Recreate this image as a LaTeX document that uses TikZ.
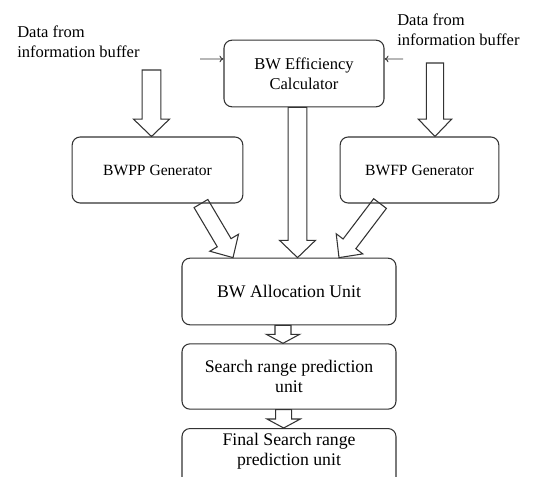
\documentclass[tikz,border=0pt]{standalone}
\usepackage{fontspec}
\setmainfont{Liberation Serif}
\usetikzlibrary{calc,arrows.meta}

\tikzset{
  box/.style={draw=black!80, line width=0.8pt, rounded corners=6pt, align=center,
    font=\fontsize{13.3}{15}\selectfont},
  small/.style={font=\fontsize{12.4}{15}\selectfont},
  gen/.style={font=\fontsize{11.7}{15}\selectfont},
  fat/.style={draw=black!80, line width=0.8pt, line join=miter},
  thin/.style={draw=black!80, line width=0.7pt, -{To[length=3pt,width=5pt]}},
  lbl/.style={align=left, inner sep=0pt, font=\fontsize{12.4}{15}\selectfont},
}

% hollow block arrow: from, to, shaft half width, head half width, head length
\newcommand{\blockarrow}[5]{%
  \coordinate (bh) at ($(#2)!#5!(#1)$);
  \draw[fat] ($(#1)!#3!90:(#2)$) -- ($(bh)!#3!90:(#2)$) -- ($(bh)!#4!90:(#2)$) -- (#2)
    -- ($(bh)!#4!-90:(#2)$) -- ($(bh)!#3!-90:(#2)$) -- ($(#1)!#3!-90:(#2)$) -- cycle;}

\begin{document}
\begin{tikzpicture}[x=0.75pt,y=0.75pt]
  \useasboundingbox (0,0) rectangle (534,476);
  \clip (0,0) rectangle (534,476);

  % boxes
  \node[box, small, minimum width=120pt, minimum height=50pt] (calc) at (304,402.5) {BW Efficiency\\Calculator};
  \node[box, gen, minimum width=128pt, minimum height=49.5pt] (bwpp) at (157.5,306) {BWPP Generator};
  \node[box, gen, minimum width=119pt, minimum height=49.5pt] (bwfp) at (419.5,306) {BWFP Generator};
  \node[box, minimum width=160.5pt, minimum height=50pt] (alloc) at (289,184.5) {BW Allocation Unit};
  \node[box, minimum width=160.5pt, minimum height=49pt] (search) at (289,99.5) {Search range prediction\\unit};
  \node[box, minimum width=160.5pt, anchor=north] (final) at (289,48) {Final Search range\\prediction unit\rule[-20pt]{0pt}{0pt}};

  % inputs
  \node[lbl, anchor=west] (lbuf) at (17,434) {Data from\\information buffer};
  \node[lbl, anchor=west] (rbuf) at (397,446) {Data from\\information buffer};
  \coordinate (lin) at (151.5,406);
  \coordinate (rin) at (435,413);
  \coordinate (lsrc) at (200,417);
  \coordinate (rsrc) at (403,417);
  \draw[thin] (lsrc) -- ([yshift=10.9pt]calc.west);
  \draw[thin] (rsrc) -- ([yshift=10.9pt]calc.east);

  % block arrows
  \coordinate (a1) at ([xshift=-4.5pt]bwpp.north);
  \coordinate (a2) at ([xshift=11.6pt]bwfp.north);
  \coordinate (c1) at ([xshift=-4.9pt]calc.south);
  \coordinate (c2) at ([xshift=6.4pt]alloc.north);
  \coordinate (p1) at ([xshift=32.6pt]bwpp.south);
  \coordinate (p2) at ([xshift=-42pt]alloc.north);
  \coordinate (f1) at ([xshift=-29.6pt]bwfp.south);
  \coordinate (f2) at ([xshift=37.5pt]alloc.north);
  \coordinate (s1) at ([xshift=-4.5pt]alloc.south);
  \coordinate (s2) at ([xshift=-4.5pt]search.north);
  \coordinate (t1) at ([xshift=-4pt]search.south);
  \coordinate (t2) at ([xshift=-4pt]final.north);
  \blockarrow{lin}{a1}{7pt}{13.5pt}{13pt}
  \blockarrow{rin}{a2}{6.5pt}{12.5pt}{13pt}
  \blockarrow{c1}{c2}{7pt}{13.5pt}{13pt}
  \blockarrow{p1}{p2}{6pt}{12.5pt}{13pt}
  \blockarrow{f1}{f2}{6pt}{12.5pt}{13pt}
  \blockarrow{s1}{s2}{6pt}{12.5pt}{6.75pt}
  \blockarrow{t1}{t2}{6pt}{12.5pt}{6.75pt}
\end{tikzpicture}
\end{document}
